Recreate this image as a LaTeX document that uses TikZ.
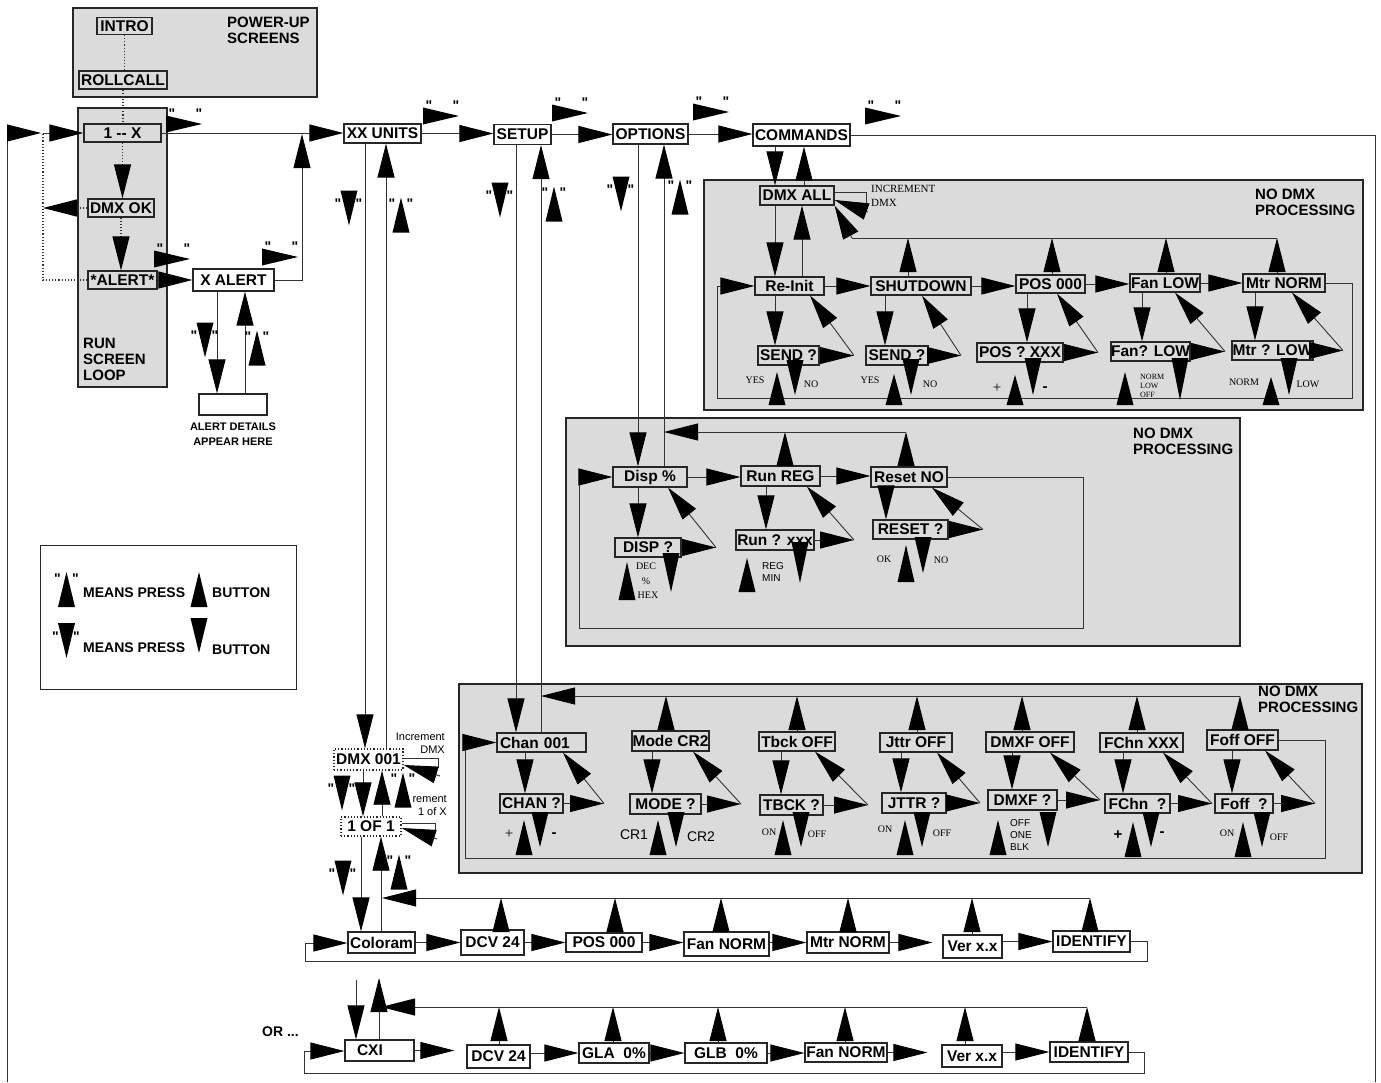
\documentclass[tikz,border=0pt]{standalone}
\usepackage{fontspec}
\setmainfont{Liberation Serif}
\setsansfont{Liberation Sans}
\newfontfamily\lsans{Liberation Sans}
\usetikzlibrary{arrows.meta}
\newcommand\triU[3]{\fill[tri] ({#1-8.5},#3) -- ({#1+8.5},#3) -- (#1,#2) -- cycle;}
\newcommand\triD[3]{\fill[tri] ({#1-8.5},#2) -- ({#1+8.5},#2) -- (#1,#3) -- cycle;}
\newcommand\triR[3]{\fill[tri] (#2,{#1-8.5}) -- (#2,{#1+8.5}) -- (#3,#1) -- cycle;}
\newcommand\qD[3]{\triD{#2}{#3-17.5}{#3+17.5}\node[qt] (#1a) at ({#2-11},{#3-9}) {"};\node[qt] (#1b) at ({#2+10},{#3-9}) {"};}
\newcommand\qU[3]{\triU{#2}{#3-17.5}{#3+17.5}\node[qt] (#1a) at ({#2-9},{#3-16}) {"};\node[qt] (#1b) at ({#2+9},{#3-16}) {"};}
\newcommand\qR[3]{\triR{#3}{#2-18}{#2+18}\node[qt] (#1a) at ({#2-12},{#3-15}) {"};\node[qt] (#1b) at ({#2+15},{#3-15}) {"};}
\newcommand\bx[7][]{\node[bx,minimum width=#5pt,minimum height=#6pt,#1] (#2) at (#3,#4) {#7};}
\begin{document}
\begin{tikzpicture}[x=1pt,y=-1pt,>={Triangle[length=34pt,width=17pt,color=black]},
 bx/.style={draw=black!85,line width=1.2pt,inner sep=0pt,font=\lsans\bfseries\fontsize{15.5}{17}\selectfont},
 dbx/.style={dotted,line width=1.4pt},
 grp/.style={draw=black!85,line width=1.2pt,fill=black!14},
 cn/.style={draw=black!80,line width=0.9pt},
 dt/.style={draw=black!80,line width=1.1pt,dotted},
 tri/.style={fill=black},
 qt/.style={inner sep=0pt,anchor=north,font=\lsans\bfseries\fontsize{14}{14}\selectfont},
 ttl/.style={inner sep=0pt,anchor=north west,align=left,font=\lsans\bfseries\fontsize{15}{16}\selectfont},
 sm/.style={inner sep=0pt,font=\rmfamily\fontsize{10}{11}\selectfont},
 smi/.style={inner sep=0pt,anchor=west,font=\rmfamily\fontsize{11}{14}\selectfont},
 tn/.style={inner sep=0pt,anchor=west,align=left,font=\rmfamily\fontsize{8}{9}\selectfont},
 ss/.style={inner sep=0pt,font=\lsans\fontsize{11}{13}\selectfont},
 ssl/.style={inner sep=0pt,anchor=west,align=left,font=\lsans\fontsize{10}{12}\selectfont},
 sb/.style={inner sep=0pt,font=\lsans\bfseries\fontsize{15}{15}\selectfont},
 big/.style={inner sep=0pt,font=\lsans\fontsize{14}{14}\selectfont},
 bigr/.style={inner sep=0pt,font=\rmfamily\fontsize{15}{15}\selectfont},
 lgt/.style={inner sep=0pt,anchor=west,font=\lsans\bfseries\fontsize{14}{14}\selectfont}]
\useasboundingbox (0,0) rectangle (1381,1082);

% ---------- group backgrounds
\path[grp] (73,8) rectangle (317,97);
\path[grp] (78,108) rectangle (167,387);
\path[grp] (704,180) rectangle (1363,410);
\path[grp] (566,418) rectangle (1240,646);
\path[grp] (459,684) rectangle (1362,873);
\path[draw=black!85,line width=1pt] (40,545) rectangle (296,689);

% ---------- titles
\node[ttl] (tpu) at (227,17) {POWER-UP\\SCREENS};
\node[ttl] (trun) at (83,338) {RUN\\SCREEN\\LOOP};
\node[ttl] (tnd1) at (1255,189) {NO DMX\\PROCESSING};
\node[ttl] (tnd2) at (1133,428) {NO DMX\\PROCESSING};
\node[ttl] (tnd3) at (1258,686) {NO DMX\\PROCESSING};
\node[inner sep=0pt,anchor=north,align=center,font=\lsans\bfseries\fontsize{11}{15}\selectfont] (tad) at (233,423) {ALERT DETAILS\\APPEAR HERE};
\node[lgt] (tor) at (262,1032) {OR ...};

% ---------- top-left boxes
\bx{intro}{124.5}{26}{55}{17}{INTRO}
\bx{rollcall}{123}{80}{88}{18}{ROLLCALL}
\bx{onex}{122.5}{133}{77}{18}{1 -- X}
\bx{dmxok}{121}{208}{66}{18}{DMX OK}
\bx{alert}{122.5}{280}{69}{18}{*ALERT*}
\bx{xalert}{233.5}{280}{81}{22}{X ALERT}
\bx{details}{233}{404.5}{68}{21}{}
\bx{xxunits}{382.5}{133.5}{77}{19}{XX UNITS}
\bx{setup}{522.5}{134.5}{57}{20}{SETUP}
\bx{options}{650.5}{134}{75}{20}{OPTIONS}
\bx{commands}{801.5}{135}{97}{22}{COMMANDS}

\draw[dt] (intro.south) -- (intro.south |- rollcall.north);
\draw[dt] (rollcall.south) -- (rollcall.south |- onex.north);
\draw[dt,->] (onex.south) -- (onex.south |- dmxok.north);
\draw[dt,->] (dmxok.south) -- (dmxok.south |- alert.north);
\coordinate (dml) at (43,208);
\draw[dt,->] (dmxok.west) -- (dml);
\coordinate (lp1) at (43,280); \coordinate (lp2) at (43,133);
\draw[dt] (alert.west) -- (lp1) -- (lp2);
\draw[cn,->] (lp2) -- (lp2 -| onex.west);
\coordinate (bl1) at (7,1082); \coordinate (bl2) at (7,133); \coordinate (bl3) at (41,133);
\draw[cn,->] (bl1) -- (bl2) -- (bl3);
\coordinate (br1) at (1375,135); \coordinate (br2) at (1375,1082);
\draw[cn] (commands.east) -- (br1) -- (br2);
\draw[cn,->] (alert.east) -- (alert.east -| xalert.west);
\coordinate (xa1) at (302,280); \coordinate (xa2) at (302,134);
\draw[cn,->] (xalert.east) -- (xa1) -- (xa2);
\draw[cn,->] (onex.east) -- (onex.east -| xxunits.west);
\draw[cn,->] (217,0 |- xalert.south) -- (217,0 |- details.north);
\draw[cn,->] (245,0 |- details.north) -- (245,0 |- xalert.south);
\draw[cn,->] (xxunits.east) -- (xxunits.east -| setup.west);
\draw[cn,->] (setup.east) -- (setup.east -| options.west);
\draw[cn,->] (options.east) -- (options.east -| commands.west);

% quote arrows (top)
\qR{qe}{184}{124}
\qR{qf}{172}{259}
\qR{qg}{280}{257}
\qD{qh}{205}{340}
\qU{qi}{257}{348}
\qD{qj}{349}{208}
\qU{qk}{401}{215}
\qR{ql}{441}{116}
\qR{qm}{570}{113}
\qR{qn}{711}{112}
\qR{qo}{883}{116}
\qD{qp}{500}{200}
\qU{qq}{554}{204}
\qD{qr}{621}{194}
\qU{qs}{680}{197}

% ---------- COMMANDS group
\bx{dmxall}{797}{195.5}{74}{19}{DMX ALL}
\bx{reinit}{789.5}{286}{69}{18}{Re-Init}
\bx{shutdown}{921}{286}{100}{18}{SHUTDOWN}
\bx{posa}{1050.5}{284}{69}{18}{POS 000}
\bx{fanlow}{1165}{283}{70}{18}{Fan LOW}
\bx{mtrnorm}{1284}{283}{82}{18}{Mtr NORM}
\bx{senda}{788.5}{355.5}{61}{19}{SEND ?}
\bx{sendb}{897}{355.5}{62}{19}{SEND ?}
\bx{posq}{1020}{352.5}{86}{19}{POS ? XXX}
\bx{fanq}{1150.5}{351.5}{79}{19}{Fan? LOW}
\bx{mtrq}{1272.5}{350.5}{81}{19}{Mtr ? LOW}

\draw[cn,->] (775,0 |- commands.south) -- (775,0 |- dmxall.north);
\draw[cn,->] (804,0 |- dmxall.north) -- (804,0 |- commands.south);
\draw[cn,->] (775,0 |- dmxall.south) -- (775,0 |- reinit.north);
\draw[cn,->] (802,0 |- reinit.north) -- (802,0 |- dmxall.south);
\coordinate (da1) at (866,192); \coordinate (da2) at (866,203); \coordinate (da3) at (868,212);
\draw[cn] (dmxall.east |- da1) -- (da1) -- (da2);
\draw[cn,->] (da3) -- (dmxall.east |- 0,200);
\node[smi] (tinc) at (871,189) {INCREMENT};
\node[smi] (tdmx) at (871,203) {DMX};
\coordinate (rt) at (852,238); \coordinate (rtR) at (1277,238);
\draw[cn] (rtR) -- (rt);
\draw[cn,->] (rt) -- (dmxall.south east);
\draw[cn,->] (908,0 |- shutdown.north) -- (908,0 |- rt);
\draw[cn,->] (1052,0 |- posa.north) -- (1052,0 |- rt);
\draw[cn,->] (1166,0 |- fanlow.north) -- (1166,0 |- rt);
\draw[cn,->] (1277,0 |- mtrnorm.north) -- (rtR);
\draw[cn,->] (reinit.east) -- (reinit.east -| shutdown.west);
\draw[cn,->] (shutdown.east) -- (shutdown.east -| posa.west);
\draw[cn,->] (posa.east) -- (posa.east -| fanlow.west);
\draw[cn,->] (fanlow.east) -- (fanlow.east -| mtrnorm.west);
\coordinate (cl1) at (1352,283); \coordinate (cl2) at (1352,398);
\coordinate (cl3) at (717,398); \coordinate (cl4) at (717,286);
\draw[cn,->] (mtrnorm.east) -- (cl1) -- (cl2) -- (cl3) -- (cl4) -- (reinit.west);
\draw[cn,->] (775,0 |- reinit.south) -- (775,0 |- senda.north);
\draw[cn,->] (885,0 |- shutdown.south) -- (885,0 |- sendb.north);
\draw[cn,->] (1027,0 |- posa.south) -- (1027,0 |- posq.north);
\draw[cn,->] (1142,0 |- fanlow.south) -- (1142,0 |- fanq.north);
\draw[cn,->] (1255,0 |- mtrnorm.south) -- (1255,0 |- mtrq.north);
\draw[cn,->] (senda.east) -- (senda.east -| 854,0) coordinate (ja);
\draw[cn,->] (ja) -- (810,0 |- reinit.south);
\draw[cn,->] (sendb.east) -- (sendb.east -| 961,0) coordinate (jb);
\draw[cn,->] (jb) -- (922,0 |- shutdown.south);
\draw[cn,->] (posq.east) -- (posq.east -| 1098,0) coordinate (jc);
\draw[cn,->] (jc) -- (1057,0 |- posa.south);
\draw[cn,->] (fanq.east) -- (fanq.east -| 1225,0) coordinate (jd);
\draw[cn,->] (jd) -- (1175,0 |- fanlow.south);
\draw[cn,->] (mtrq.east) -- (mtrq.east -| 1343,0) coordinate (je);
\draw[cn,->] (je) -- (1292,0 |- mtrnorm.south);
% button hints
\triU{777}{372}{405} \triD{795}{360}{395}
\node[sm] (ya) at (755,380) {YES}; \node[sm] (na) at (811,384) {NO};
\triU{894}{374}{405} \triD{911}{359}{395}
\node[sm] (yb) at (870,380) {YES}; \node[sm] (nb) at (930,384) {NO};
\triU{1015}{375}{405} \triD{1033}{358}{395}
\node[bigr] (pa) at (997,388) {+}; \node[sb] (ma) at (1045,389) {-};
\triU{1125}{372}{405} \triD{1180}{358}{400}
\node[tn] (tnl) at (1140,386) {NORM\\LOW\\OFF};
\triU{1271}{377}{405} \triD{1289}{358}{395}
\node[sm] (nm) at (1244,382) {NORM}; \node[sm] (lw) at (1308,384) {LOW};

% ---------- OPTIONS group
\bx{disp}{650}{477}{74}{20}{Disp \%}
\bx{runreg}{780.5}{476}{79}{20}{Run REG}
\bx{resetno}{909}{477}{76}{20}{Reset NO}
\bx{dispq}{648}{547.5}{66}{19}{DISP ?}
\bx{runq}{775}{540}{78}{20}{Run ? xxx}
\bx{resetq}{910.5}{529.5}{75}{19}{RESET ?}
\draw[cn,->] (638,0 |- options.south) -- (638,0 |- disp.north);
\draw[cn,->] (664,0 |- disp.north) -- (664,0 |- options.south);
\coordinate (ro) at (906,432); \coordinate (roL) at (664,432);
\draw[cn,->] (906,0 |- resetno.north) -- (ro);
\draw[cn,->] (785,0 |- runreg.north) -- (785,0 |- ro);
\draw[cn,->] (ro) -- (roL);
\draw[cn,->] (disp.east) -- (disp.east -| runreg.west);
\draw[cn,->] (runreg.east) -- (runreg.east -| resetno.west);
\coordinate (ol1) at (1083,477); \coordinate (ol2) at (1083,628);
\coordinate (ol3) at (579,628); \coordinate (ol4) at (579,477);
\draw[cn,->] (resetno.east) -- (ol1) -- (ol2) -- (ol3) -- (ol4) -- (disp.west);
\draw[cn,->] (638,0 |- disp.south) -- (638,0 |- dispq.north);
\draw[cn,->] (766,0 |- runreg.south) -- (766,0 |- runq.north);
\draw[cn,->] (886,0 |- resetno.south) -- (886,0 |- resetq.north);
\draw[cn,->] (dispq.east) -- (dispq.east -| 716,0) coordinate (jf);
\draw[cn,->] (jf) -- (668,0 |- disp.south);
\draw[cn,->] (runq.east) -- (runq.east -| 854,0) coordinate (jg);
\draw[cn,->] (jg) -- (807,0 |- runreg.south);
\draw[cn,->] (resetq.east) -- (resetq.east -| 983,0) coordinate (jh);
\draw[cn,->] (jh) -- (932,0 |- resetno.south);
\triU{627}{562}{600} \triD{671}{553}{592}
\node[sm] (tdec) at (646,566) {DEC};
\node[sm] (tpc) at (646,581) {\%};
\node[sm] (thex) at (648,595) {HEX};
\triU{747}{558}{592} \triD{800}{542}{583}
\node[ssl] (treg) at (762,572) {REG\\MIN};
\triU{906}{545}{582} \triD{923}{537}{573}
\node[sm] (tok) at (884,559) {OK}; \node[sm] (tno2) at (941,560) {NO};

% ---------- SETUP group
\bx[text width=83pt,align=left]{chan}{541.5}{742.5}{89}{19}{Chan 001}
\bx{mode}{670.5}{741}{77}{20}{Mode CR2}
\bx{tbck}{797}{741.5}{76}{19}{Tbck OFF}
\bx{jttr}{916}{742.5}{72}{19}{Jttr OFF}
\bx{dmxf}{1030}{742}{88}{20}{DMXF OFF}
\bx{fchn}{1141.5}{742.5}{83}{19}{FChn XXX}
\bx{foff}{1242.5}{740}{71}{20}{Foff OFF}
\bx{chanq}{531.5}{803.5}{63}{19}{CHAN ?}
\bx{modeq}{665.5}{804}{71}{20}{MODE ?}
\bx{tbckq}{791.5}{805}{63}{20}{TBCK ?}
\bx{jttrq}{914}{803}{64}{20}{JTTR ?}
\bx{dmxfq}{1022.5}{800}{69}{20}{DMXF ?}
\bx{fchnq}{1137.5}{803.5}{65}{19}{FChn\ \ ?}
\bx{foffq}{1244}{803.5}{58}{19}{Foff\ \ ?}
\draw[cn,->] (516,0 |- setup.south) -- (516,0 |- chan.north);
\draw[cn,->] (541,0 |- chan.north) -- (541,0 |- setup.south);
\coordinate (rs) at (1240,696); \coordinate (rsL) at (541,696);
\draw[cn,->] (1240,0 |- foff.north) -- (rs);
\draw[cn,->] (rs) -- (rsL);
\draw[cn,->] (666,0 |- mode.north) -- (666,0 |- rs);
\draw[cn,->] (797,0 |- tbck.north) -- (797,0 |- rs);
\draw[cn,->] (917,0 |- jttr.north) -- (917,0 |- rs);
\draw[cn,->] (1022,0 |- dmxf.north) -- (1022,0 |- rs);
\draw[cn,->] (1137,0 |- fchn.north) -- (1137,0 |- rs);
\coordinate (sl1) at (1325,740); \coordinate (sl2) at (1325,858);
\coordinate (sl3) at (465,858); \coordinate (sl4) at (465,742.5);
\draw[cn,->] (foff.east) -- (sl1) -- (sl2) -- (sl3) -- (sl4) -- (chan.west);
\draw[cn,->] (525,0 |- chan.south) -- (525,0 |- chanq.north);
\draw[cn,->] (652,0 |- mode.south) -- (652,0 |- modeq.north);
\draw[cn,->] (781,0 |- tbck.south) -- (781,0 |- tbckq.north);
\draw[cn,->] (901,0 |- jttr.south) -- (901,0 |- jttrq.north);
\draw[cn,->] (1012,0 |- dmxf.south) -- (1012,0 |- dmxfq.north);
\draw[cn,->] (1123,0 |- fchn.south) -- (1123,0 |- fchnq.north);
\draw[cn,->] (1232,0 |- foff.south) -- (1232,0 |- foffq.north);
\draw[cn,->] (chanq.east) -- (chanq.east -| 604,0) coordinate (ji);
\draw[cn,->] (ji) -- (563,0 |- chan.south);
\draw[cn,->] (modeq.east) -- (modeq.east -| 741,0) coordinate (jj);
\draw[cn,->] (jj) -- (693,0 |- mode.south);
\draw[cn,->] (tbckq.east) -- (tbckq.east -| 868,0) coordinate (jk);
\draw[cn,->] (jk) -- (815,0 |- tbck.south);
\draw[cn,->] (jttrq.east) -- (jttrq.east -| 980,0) coordinate (jl);
\draw[cn,->] (jl) -- (937,0 |- jttr.south);
\draw[cn,->] (dmxfq.east) -- (dmxfq.east -| 1100,0) coordinate (jm);
\draw[cn,->] (jm) -- (1050,0 |- dmxf.south);
\draw[cn,->] (fchnq.east) -- (fchnq.east -| 1212,0) coordinate (jn);
\draw[cn,->] (jn) -- (1163,0 |- fchn.south);
\draw[cn,->] (foffq.east) -- (foffq.east -| 1315,0) coordinate (jo);
\draw[cn,->] (jo) -- (1265,0 |- foff.south);
\triU{524}{820}{855} \triD{540}{812}{847}
\node[bigr] (tpl1) at (509,834) {+}; \node[sb] (tmi1) at (554,835) {-};
\triU{658}{820}{855} \triD{676}{812}{847}
\node[big] (tcr1) at (634,835) {CR1}; \node[big] (tcr2) at (701,837) {CR2};
\triU{783}{820}{855} \triD{801}{812}{847}
\node[sm] (ton1) at (769,832) {ON}; \node[sm] (tof1) at (817,834) {OFF};
\triU{905}{820}{855} \triD{922}{812}{847}
\node[sm] (ton2) at (885,829) {ON}; \node[sm] (tof2) at (942,833) {OFF};
\triU{998}{820}{855} \triD{1048}{812}{847}
\node[ssl] (tob) at (1010,835) {OFF\\ONE\\BLK};
\triU{1133}{822}{857} \triD{1151}{812}{847}
\node[sb] (tpl2) at (1118,835) {+}; \node[sb] (tmi2) at (1162,834) {-};
\triU{1243}{822}{857} \triD{1262}{812}{847}
\node[sm] (ton3) at (1227,833) {ON}; \node[sm] (tof3) at (1279,837) {OFF};

% ---------- DMX 001 / 1 OF 1
\bx[dbx]{dmxa}{368.5}{759.5}{69}{21}{DMX 001}
\bx[dbx]{oneof}{371}{826.5}{60}{19}{1 OF 1}
\draw[cn,->] (365,0 |- xxunits.south) -- (365,0 |- dmxa.north);
\draw[cn,->] (386,0 |- dmxa.north) -- (386,0 |- xxunits.south);
\draw[cn,->] (363,0 |- dmxa.south) -- (363,0 |- oneof.north);
\draw[cn,->] (382,0 |- oneof.north) -- (382,0 |- dmxa.south);
\coordinate (dx1) at (438,758); \coordinate (dx2) at (438,768); \coordinate (dx3) at (440,776);
\draw[cn] (dmxa.east |- dx1) -- (dx1) -- (dx2);
\draw[cn,->] (dx3) -- (dmxa.east |- 0,765);
\coordinate (ox1) at (435,823); \coordinate (ox2) at (435,831); \coordinate (ox3) at (437,839);
\draw[cn] (oneof.east |- ox1) -- (ox1) -- (ox2);
\draw[cn,->] (ox3) -- (oneof.east |- 0,828);
\node[ss,anchor=east,align=right] (tincd) at (445,743.5) {Increment\\DMX};
\node[ss,anchor=east,align=right] (tinco) at (447,805) {rement\\1 of X};
\qD{qa}{342}{793}
\qU{qb}{403}{790}
\qD{qc}{343}{878}
\qU{qd}{399}{872}

% ---------- Row 1
\bx{coloram}{381.5}{942.5}{67}{21}{Coloram}
\bx{dcva}{492.5}{942.5}{63}{25}{DCV 24}
\bx{posb}{604}{942.5}{76}{19}{POS 000}
\bx{fana}{726.5}{944}{85}{24}{Fan NORM}
\bx{mtra}{848}{942.5}{82}{21}{Mtr NORM}
\bx{vera}{972.5}{946.5}{59}{23}{Ver x.x}
\bx{identa}{1091.5}{941.5}{77}{21}{IDENTIFY}
\draw[cn,->] (361,0 |- oneof.south) -- (361,0 |- coloram.north);
\draw[cn,->] (381,0 |- coloram.north) -- (381,0 |- oneof.south);
\draw[cn,->] (coloram.east) -- (coloram.east -| dcva.west);
\draw[cn,->] (dcva.east) -- (dcva.east -| posb.west);
\draw[cn,->] (posb.east) -- (posb.east -| fana.west);
\draw[cn,->] (fana.east |- mtra.west) -- (mtra.west);
\draw[cn,->,shorten >=10pt] (mtra.east) -- (mtra.east -| vera.west);
\draw[cn,->] (vera.east |- identa.west) -- (identa.west);
\coordinate (ra) at (1090,898); \coordinate (raL) at (382,898);
\draw[cn,->] (1090,0 |- identa.north) -- (ra);
\draw[cn,->] (ra) -- (raL);
\draw[cn,->] (501,0 |- dcva.north) -- (501,0 |- ra);
\draw[cn,->] (615,0 |- posb.north) -- (615,0 |- ra);
\draw[cn,->] (721,0 |- fana.north) -- (721,0 |- ra);
\draw[cn,->] (848,0 |- mtra.north) -- (848,0 |- ra);
\draw[cn,->] (972,0 |- vera.north) -- (972,0 |- ra);
\coordinate (al1) at (1147,941.5); \coordinate (al2) at (1147,961);
\coordinate (al3) at (305,961); \coordinate (al4) at (305,943);
\draw[cn,->] (identa.east) -- (al1) -- (al2) -- (al3) -- (al4) -- (al4 -| coloram.west);

% ---------- Row 2
\bx[text width=45pt,align=left]{cxi}{379.5}{1050.5}{69}{21}{CXI}
\bx{dcvb}{498.5}{1056.5}{63}{23}{DCV 24}
\bx{gla}{614}{1053}{70}{20}{GLA\ \ 0\%}
\bx{glb}{726}{1053}{82}{20}{GLB\ \ 0\%}
\bx{fanb}{846}{1052.5}{82}{19}{Fan NORM}
\bx{verb}{972}{1056}{60}{22}{Ver x.x}
\bx{identb}{1089}{1052}{78}{20}{IDENTIFY}
\coordinate (cs1) at (356,980); \coordinate (cs2) at (379,978);
\draw[cn,->] (cs1) -- (cs1 |- cxi.north);
\draw[cn,->] (cs2 |- cxi.north) -- (cs2);
\draw[cn,->,shorten >=12pt] (cxi.east) -- (cxi.east -| dcvb.west);
\draw[cn,->] (gla.west -| dcvb.east) -- (gla.west);
\draw[cn,->] (gla.east) -- (gla.east -| glb.west);
\draw[cn,->] (glb.east) -- (glb.east -| fanb.west);
\draw[cn,->,shorten >=14pt] (fanb.east) -- (fanb.east -| verb.west);
\draw[cn,->] (identb.west -| verb.east) -- (identb.west);
\coordinate (rb) at (1087,1007); \coordinate (rbL) at (381,1007);
\draw[cn,->] (1087,0 |- identb.north) -- (rb);
\draw[cn,->] (rb) -- (rbL);
\draw[cn,->] (499,0 |- dcvb.north) -- (499,0 |- rb);
\draw[cn,->] (613,0 |- gla.north) -- (613,0 |- rb);
\draw[cn,->] (718,0 |- glb.north) -- (718,0 |- rb);
\draw[cn,->] (845,0 |- fanb.north) -- (845,0 |- rb);
\draw[cn,->] (965,0 |- verb.north) -- (965,0 |- rb);
\coordinate (bb1) at (1144,1052); \coordinate (bb2) at (1144,1073);
\coordinate (bb3) at (304,1073); \coordinate (bb4) at (304,1051);
\draw[cn,->] (identb.east) -- (bb1) -- (bb2) -- (bb3) -- (bb4) -- (bb4 -| cxi.west);

% ---------- legend
\qU{lga}{66.5}{589.5}
\triU{199}{572}{607}
\qD{lgb}{66.5}{640.5}
\triD{199}{618}{653}
\node[lgt] (lm1) at (83,593) {MEANS PRESS};
\node[lgt] (lb1) at (212,593) {BUTTON};
\node[lgt] (lm2) at (83,648) {MEANS PRESS};
\node[lgt] (lb2) at (212,650) {BUTTON};
\end{tikzpicture}
\end{document}
